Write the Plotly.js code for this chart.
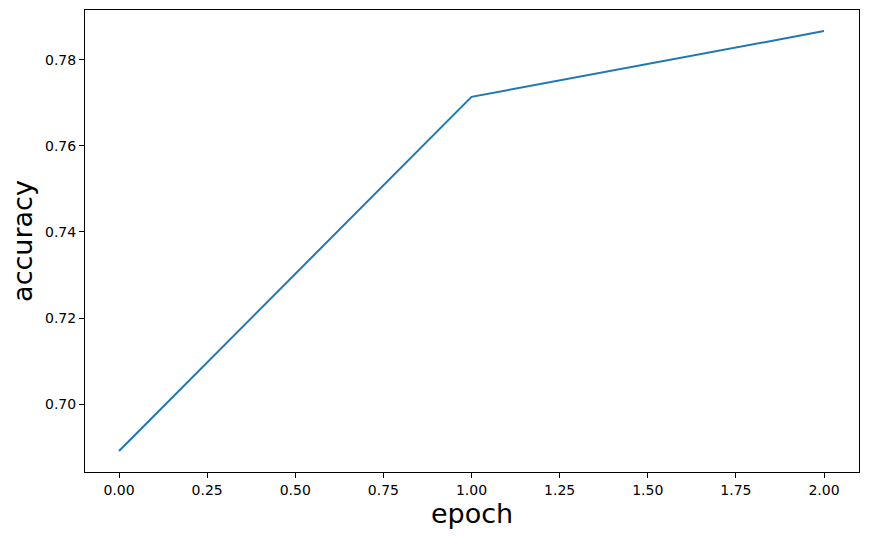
<!DOCTYPE html>
<html><head><meta charset="utf-8">
<script src="https://cdn.plot.ly/plotly-3.0.1.min.js"></script>
<style>body{margin:0;padding:0;background:#fff}#chart{width:869px;height:539px}</style>
</head><body><div id="chart"></div>
<script>
const epochs = [0, 1, 2];
const accuracy = [0.6891, 0.7714, 0.7867];
const xTicks = [0, 0.25, 0.5, 0.75, 1.0, 1.25, 1.5, 1.75, 2.0];
const xTickText = ["0.00","0.25","0.50","0.75","1.00","1.25","1.50","1.75","2.00"];
const yTicks = [0.70, 0.72, 0.74, 0.76, 0.78];
const yTickText = ["0.70","0.72","0.74","0.76","0.78"];

const font = "DejaVu Sans, sans-serif";
Plotly.newPlot('chart', [{
  x: epochs, y: accuracy, type: 'scatter', mode: 'lines',
  line: {color: '#1f77b4', width: 2}
}], {
  width: 869, height: 539,
  margin: {l: 85, r: 10, t: 10, b: 67},
  paper_bgcolor: '#fff', plot_bgcolor: '#fff',
  showlegend: false,
  font: {family: font, color: '#000', size: 14},
  xaxis: {
    range: [-0.0965, 2.0993], tickvals: xTicks, ticktext: xTickText,
    ticks: 'outside', ticklen: 5, tickwidth: 1, tickcolor: '#000',
    showgrid: false, zeroline: false, showline: true, linecolor: '#000', linewidth: 1, mirror: true,
    tickfont: {family: font, size: 14, color: '#000'},
    title: {text: 'epoch', font: {family: font, size: 27, color: '#000'}, standoff: 7}
  },
  yaxis: {
    range: [0.6842, 0.7916], tickvals: yTicks, ticktext: yTickText,
    ticks: 'outside', ticklen: 5, tickwidth: 1, tickcolor: '#000',
    showgrid: false, zeroline: false, showline: true, linecolor: '#000', linewidth: 1, mirror: true,
    tickfont: {family: font, size: 14, color: '#000'},
    title: {text: 'accuracy', font: {family: font, size: 27, color: '#000'}, standoff: 4}
  }
}, {displayModeBar: false, staticPlot: true});
</script></body></html>
